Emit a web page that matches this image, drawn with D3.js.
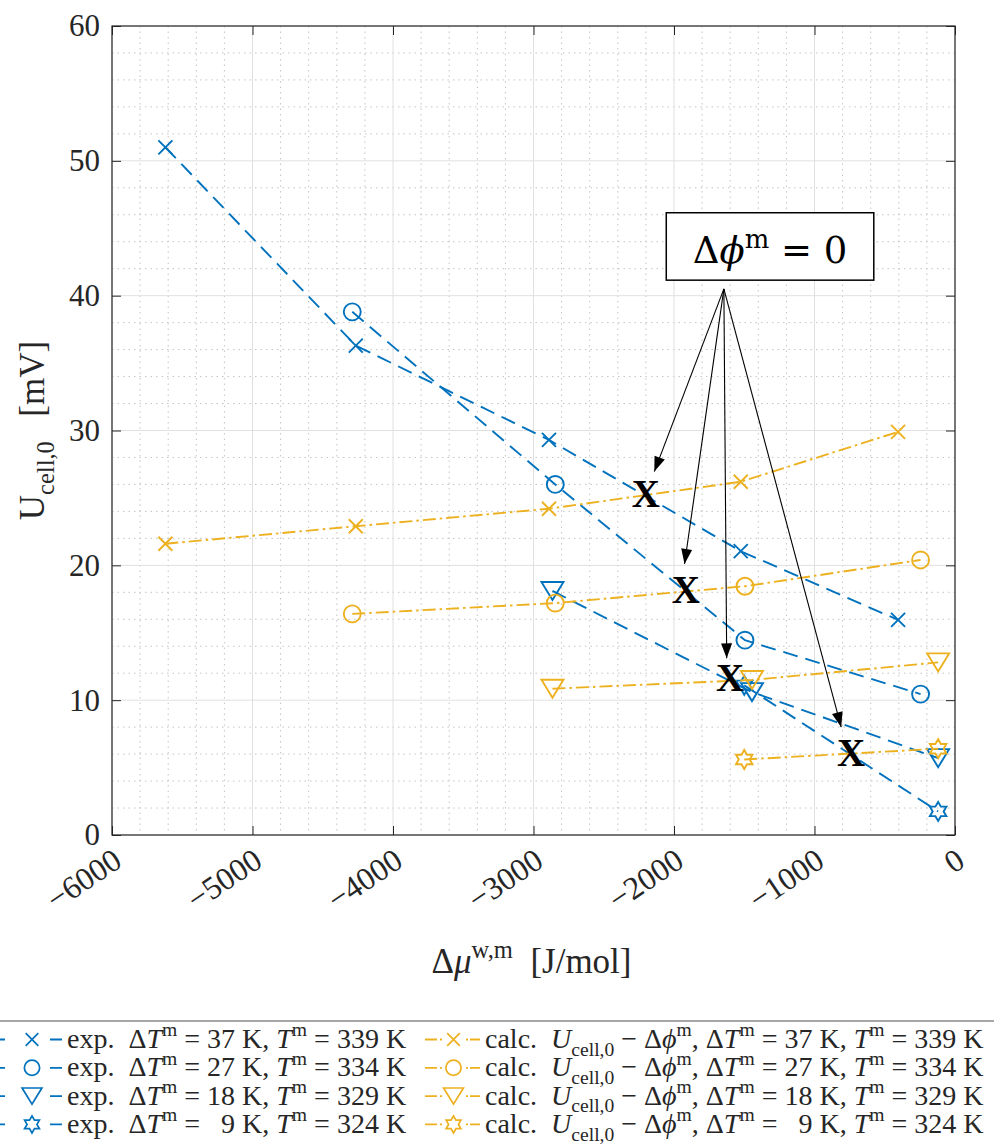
<!DOCTYPE html>
<html>
<head>
<meta charset="utf-8">
<script src="https://cdn.jsdelivr.net/npm/d3@7"></script>
<style>
  body { margin: 0; background: #fff; }
  svg { display: block; }
  text { font-family: "Liberation Serif", serif; fill: #262626; white-space: pre; }
</style>
</head>
<body>
<div id="chart"></div>
<script>
// values
const dmu37 = [-5620, -4265, -2890, -1525, -405];
const uExp37 = [51.0, 36.3, 29.3, 21.05, 15.95];
const uCalc37 = [21.6, 22.9, 24.2, 26.2, 29.9];

const dmu27 = [-4290, -2845, -1495, -245];
const uExp27 = [38.8, 26.0, 14.45, 10.45];
const uCalc27 = [16.4, 17.2, 18.45, 20.4];

const dmu18 = [-2865, -1445, -120];
const uExp18 = [18.1, 10.6, 5.7];
const uCalc18 = [10.85, 11.5, 12.8];

const dmu9 = [-1500, -120];
const uExp9 = [11.1, 1.75];
const uCalc9 = [5.6, 6.4];

// points where delta phi = 0
const dmuZero = [-2200, -1915, -1600, -740];
const uZero = [25.3, 18.2, 11.65, 6.1];

const deltaT = ["37", "27", "18", "\u20079"];
const tempM = ["339", "334", "329", "324"];

const xTicks = [-6000, -5000, -4000, -3000, -2000, -1000, 0];
const yTicks = [0, 10, 20, 30, 40, 50, 60];

// annotation (data units)
const arrowFrom = [-1645, 40.5];
const arrowTips = [[-2140, 26.95], [-1925, 20.1], [-1625, 13.1], [-810, 8.0]];

const blue = "#0072BD", orange = "#EDB120";
const W = 994, H = 1147;

const series = [
  { dmu: dmu37, u: uExp37, kind: "exp", mk: "x" },
  { dmu: dmu27, u: uExp27, kind: "exp", mk: "o" },
  { dmu: dmu18, u: uExp18, kind: "exp", mk: "v" },
  { dmu: dmu9, u: uExp9, kind: "exp", mk: "h" },
  { dmu: dmu37, u: uCalc37, kind: "calc", mk: "x" },
  { dmu: dmu27, u: uCalc27, kind: "calc", mk: "o" },
  { dmu: dmu18, u: uCalc18, kind: "calc", mk: "v" },
  { dmu: dmu9, u: uCalc9, kind: "calc", mk: "h" }
];

const svg = d3.select("#chart").append("svg")
    .attr("width", W)
    .attr("height", H);

const x = d3.scaleLinear().domain([-6000, 0]).range([112, 955]);
const y = d3.scaleLinear().domain([0, 60]).range([835, 26]);
const [x0, x1] = x.range();
const [y0, y1] = y.range();

// grid: minor dotted, major solid
const minorX = d3.range(-6000, 1, 200).filter(v => v % 1000 !== 0);
const minorY = d3.range(0, 61, 2).filter(v => v % 10 !== 0);

const grid = svg.append("g");
grid.selectAll(".mx").data(minorX).enter().append("line")
    .attr("x1", d => x(d)).attr("x2", d => x(d))
    .attr("y1", y1).attr("y2", y0)
    .style("stroke", "#c4c4c4").style("stroke-width", 1)
    .style("stroke-dasharray", "1.5,4");
grid.selectAll(".my").data(minorY).enter().append("line")
    .attr("y1", d => y(d)).attr("y2", d => y(d))
    .attr("x1", x0).attr("x2", x1)
    .style("stroke", "#c4c4c4").style("stroke-width", 1)
    .style("stroke-dasharray", "1.5,4");
grid.selectAll(".gx").data(xTicks).enter().append("line")
    .attr("x1", d => x(d)).attr("x2", d => x(d))
    .attr("y1", y1).attr("y2", y0)
    .style("stroke", "#e0e0e0").style("stroke-width", 1);
grid.selectAll(".gy").data(yTicks).enter().append("line")
    .attr("y1", d => y(d)).attr("y2", d => y(d))
    .attr("x1", x0).attr("x2", x1)
    .style("stroke", "#e0e0e0").style("stroke-width", 1);

function markerPath(mk) {
  if (mk === "x") return "M-7,-7L7,7M-7,7L7,-7";
  if (mk === "o") return d3.symbol(d3.symbolCircle, Math.PI * 72)();
  if (mk === "v") return "M-11,-9L11,-9L0,9Z";
  // hexagram
  const pts = d3.range(12).map(i => {
    const r = i % 2 === 0 ? 9.5 : 9.5 / Math.sqrt(3);
    const a = -Math.PI / 2 + i * Math.PI / 6;
    return [r * Math.cos(a), r * Math.sin(a)];
  });
  return "M" + pts.join("L") + "Z";
}

const dashExp = "15,8";
const dashCalc = "13,4,2.5,4";

const line = d3.line()
    .x(d => x(d[0]))
    .y(d => y(d[1]));

const plot = svg.append("g");
series.forEach(s => {
  const pts = s.dmu.map((v, i) => [v, s.u[i]]);
  const col = s.kind === "exp" ? blue : orange;
  plot.append("path")
      .datum(pts)
      .attr("d", line)
      .style("fill", "none")
      .style("stroke", col)
      .style("stroke-width", 1.9)
      .style("stroke-dasharray", s.kind === "exp" ? dashExp : dashCalc);
  plot.selectAll(null).data(pts).enter().append("path")
      .attr("transform", d => "translate(" + x(d[0]) + "," + y(d[1]) + ")")
      .attr("d", markerPath(s.mk))
      .style("fill", "none")
      .style("stroke", col)
      .style("stroke-width", 1.9);
});

// big X marks where delta phi = 0
plot.selectAll(".zx").data(dmuZero).enter().append("text")
    .attr("x", d => x(d))
    .attr("y", (d, i) => y(uZero[i]))
    .attr("dy", "0.34em")
    .attr("text-anchor", "middle")
    .attr("font-size", 39)
    .attr("font-weight", "bold")
    .style("fill", "#000")
    .text("X");

// arrows
const defs = svg.append("defs");
defs.append("marker")
    .attr("id", "head")
    .attr("viewBox", "-16 -6 17 12")
    .attr("markerWidth", 17)
    .attr("markerHeight", 12)
    .attr("markerUnits", "userSpaceOnUse")
    .attr("refX", 0).attr("refY", 0)
    .attr("orient", "auto")
  .append("path")
    .attr("d", "M0,0L-15,-5.5L-15,5.5Z")
    .style("fill", "#000");

svg.append("g").selectAll("line").data(arrowTips).enter().append("line")
    .attr("x1", x(arrowFrom[0])).attr("y1", y(arrowFrom[1]))
    .attr("x2", d => x(d[0])).attr("y2", d => y(d[1]))
    .style("stroke", "#000").style("stroke-width", 1.1)
    .attr("marker-end", "url(#head)");

// text with sub/superscripts
function mathText(g, parts, size) {
  const t = g.append("text").attr("font-size", size);
  let cur = 0;
  parts.forEach(p => {
    const str = Array.isArray(p) ? p[0] : p;
    const st = Array.isArray(p) ? p[1] : "";
    const off = st === "sup" ? -0.42 * size : st === "sub" ? 0.28 * size : 0;
    const ts = t.append("tspan").text(str).attr("dy", off - cur);
    if (st === "sup" || st === "sub") ts.attr("font-size", size * 0.7);
    if (st === "i") ts.style("font-style", "italic");
    cur = off;
  });
  return t;
}

// annotation box
const boxL = x(-2055), boxR = x(-578), boxT = y(46.15), boxB = y(41.15);
svg.append("rect")
    .attr("x", boxL).attr("y", boxT)
    .attr("width", boxR - boxL).attr("height", boxB - boxT)
    .style("fill", "#fff").style("stroke", "#000").style("stroke-width", 1.5);
mathText(svg, ["\u0394", ["\u03d5", "i"], ["m", "sup"], " = 0"], 37)
    .attr("x", (boxL + boxR) / 2)
    .attr("y", boxB - 17)
    .attr("text-anchor", "middle")
    .style("font-family", "'DejaVu Serif', serif")
    .style("fill", "#000");

// axes
const fmt = d => d < 0 ? "\u2212" + Math.abs(d) : String(d);
function styleAxis(g) {
  g.select(".domain").remove();
  g.selectAll(".tick line").style("stroke", "#262626").style("stroke-width", 1);
  g.attr("font-family", null).attr("font-size", null);
}

svg.append("g")
    .attr("transform", "translate(0," + y0 + ")")
    .call(d3.axisBottom(x).tickValues(xTicks).tickSizeInner(-9).tickSizeOuter(0).tickFormat(fmt))
    .call(styleAxis)
    .call(g => g.selectAll("text")
        .attr("y", null).attr("dy", "0.35em")
        .attr("font-size", 32)
        .attr("text-anchor", "end")
        .attr("transform", "translate(5,21) rotate(-34)"));

svg.append("g")
    .attr("transform", "translate(0," + y1 + ")")
    .call(d3.axisTop(x).tickValues(xTicks).tickSizeInner(-9).tickSizeOuter(0).tickFormat(""))
    .call(styleAxis);

svg.append("g")
    .attr("transform", "translate(" + x0 + ",0)")
    .call(d3.axisLeft(y).tickValues(yTicks).tickSizeInner(-9).tickSizeOuter(0).tickPadding(12))
    .call(styleAxis)
    .call(g => g.selectAll("text").attr("font-size", 31));

svg.append("g")
    .attr("transform", "translate(" + x1 + ",0)")
    .call(d3.axisRight(y).tickValues(yTicks).tickSizeInner(-9).tickSizeOuter(0).tickFormat(""))
    .call(styleAxis);

svg.append("rect")
    .attr("x", x0).attr("y", y1)
    .attr("width", x1 - x0).attr("height", y0 - y1)
    .style("fill", "none").style("stroke", "#262626").style("stroke-width", 1.2);

// axis labels
mathText(svg, ["\u0394", ["\u03bc", "i"], ["w,m", "sup"], "\u2002[J/mol]"], 35)
    .attr("x", (x0 + x1) / 2 - 2)
    .attr("y", 973)
    .attr("text-anchor", "middle");

mathText(svg, ["U", ["cell,0", "sub"], "\u2002\u2009[mV]"], 35)
    .attr("text-anchor", "middle")
    .attr("transform", "translate(44," + ((y0 + y1) / 2) + ") rotate(-90)");

// legend
const legY = 1021, rowH = 28.3, firstRow = 1039.5;
svg.append("line")
    .attr("x1", 0).attr("x2", W)
    .attr("y1", legY).attr("y2", legY)
    .style("stroke", "#8a8a8a").style("stroke-width", 1.5);

const eq = " = ";
const legend = svg.append("g");
series.forEach((s, i) => {
  const row = i % 4;
  const cy = firstRow + row * rowH;
  const isExp = s.kind === "exp";
  const col = isExp ? blue : orange;
  const lx0 = isExp ? 0 : 425, lx1 = isExp ? 62 : 480;
  const mx = isExp ? 32 : 453.5;
  legend.append("line")
      .attr("x1", lx0).attr("x2", lx1)
      .attr("y1", cy).attr("y2", cy)
      .style("stroke", col).style("stroke-width", 1.8)
      .style("stroke-dasharray", isExp ? "5,45,12" : "12,3,2,24,2,2,10");
  legend.append("path")
      .attr("transform", "translate(" + mx + "," + cy + ") scale(0.9)")
      .attr("d", markerPath(s.mk))
      .style("fill", "none").style("stroke", col).style("stroke-width", 1.9);
  const head = isExp
    ? ["exp.  \u0394", ["T", "i"], ["m", "sup"]]
    : ["calc.  ", ["U", "i"], ["cell,0", "sub"], " \u2212 \u0394", ["\u03d5", "i"], ["m", "sup"], ", \u0394", ["T", "i"], ["m", "sup"]];
  const parts = head.concat([eq + deltaT[row] + " K, ", ["T", "i"], ["m", "sup"], eq + tempM[row] + " K"]);
  mathText(legend, parts, 28)
      .attr("x", isExp ? 67 : 485)
      .attr("y", cy + 8.5);
});
</script>
</body>
</html>
